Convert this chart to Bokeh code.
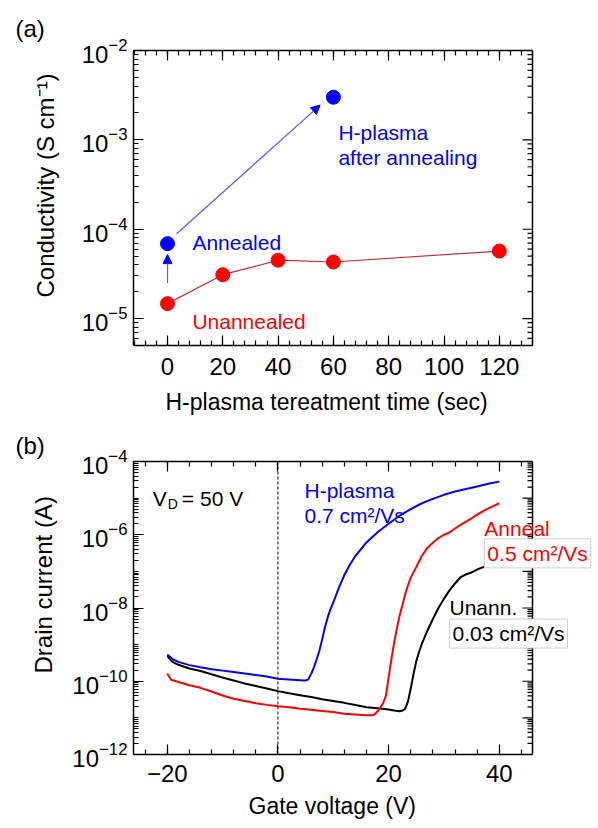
import math
from bokeh.plotting import figure
from bokeh.layouts import column
from bokeh.models import (LinearAxis, FixedTicker, SingleIntervalTicker, Title,
                          LogTickFormatter, Label, Arrow, NormalHead, Span, Range1d)
from bokeh.embed import file_html
from bokeh.resources import INLINE

FONT = "Liberation Sans"

# ---------------- panel (a) data ----------------
time_unannealed = [0, 20, 40, 60, 120]
cond_unannealed = [1.47e-5, 3.1e-5, 4.5e-5, 4.3e-5, 5.7e-5]
time_annealed = [0]
cond_annealed = [6.9e-5]
time_hplasma = [60]
cond_hplasma = [3.0e-3]
# arrows: (x_start, y_start, x_end, y_end)
arrow_anneal = [0, 2.5e-5, 0, 5.2e-5]
arrow_plasma = [3.3, 8.9e-5, 55.2, 2.45e-3]
a_decades = [1e-5, 1e-4, 1e-3, 1e-2]
a_minor_low = [5e-6, 6e-6, 7e-6, 8e-6, 9e-6]
a_x_min, a_x_max = -12.3, 132.0     # visible axis box of panel (a)
a_x_canvas_max = 153.7              # frame extends to the right (room for overhanging labels)

# ---------------- panel (b) data ----------------
vg_hplasma = [-20, -19, -18, -16, -14, -12, -10, -8, -6, -4, -2, 0, 2, 4, 5, 5.5, 6, 6.5,
              7, 7.5, 8, 8.5, 9, 9.5, 10, 11, 12, 13, 14, 16, 18, 20, 22, 24, 26, 28, 30,
              32, 34, 36, 38, 40]
logid_hplasma = [-9.27, -9.40, -9.47, -9.56, -9.62, -9.67, -9.71, -9.75, -9.79, -9.83, -9.87,
                 -9.93, -9.95, -9.97, -9.98, -9.95, -9.80, -9.62, -9.40, -9.16, -8.85, -8.52,
                 -8.25, -8.03, -7.85, -7.45, -7.10, -6.82, -6.58, -6.21, -5.93, -5.70, -5.48,
                 -5.30, -5.14, -5.02, -4.91, -4.82, -4.75, -4.68, -4.61, -4.55]

vg_anneal = [-20, -19.3, -18, -16, -14, -12, -10, -8, -6, -4, -2, 0, 2, 4, 6, 8, 10, 12, 14,
             16, 17, 17.5, 18, 18.5, 19, 19.5, 20, 20.5, 21, 21.5, 22, 22.5, 23, 23.5, 24, 25,
             26, 27, 28, 29, 30, 31, 32, 33, 34, 35, 36, 37, 38, 39, 40]
logid_anneal = [-9.79, -9.96, -10.02, -10.11, -10.18, -10.28, -10.39, -10.48, -10.54, -10.60,
                -10.645, -10.68, -10.71, -10.75, -10.78, -10.81, -10.84, -10.89, -10.91,
                -10.93, -10.93, -10.90, -10.82, -10.72, -10.60, -10.40, -9.90, -9.40, -8.95,
                -8.55, -8.20, -7.92, -7.62, -7.38, -7.17, -6.88, -6.58, -6.36, -6.22, -6.09,
                -6.00, -5.94, -5.83, -5.73, -5.64, -5.55, -5.45, -5.36, -5.28, -5.21, -5.14]

vg_unann = [-20, -19, -18, -16, -14, -12, -10, -8, -6, -4, -2, 0, 2, 4, 6, 8, 10, 12, 14, 16,
            18, 20, 21, 22, 22.5, 23, 23.5, 24, 24.5, 25, 25.5, 26, 27, 28, 29, 30, 31, 32, 33,
            34, 35, 36, 37, 38, 39, 40]
logid_unann = [-9.31, -9.48, -9.55, -9.65, -9.72, -9.81, -9.90, -9.98, -10.06, -10.13, -10.20,
               -10.27, -10.33, -10.38, -10.43, -10.49, -10.54, -10.59, -10.65, -10.71, -10.74,
               -10.77, -10.80, -10.82, -10.80, -10.75, -10.55, -10.20, -9.80, -9.45, -9.20,
               -8.98, -8.62, -8.30, -8.00, -7.75, -7.52, -7.33, -7.16, -7.08, -7.03, -6.95,
               -6.89, -6.80, -6.70, -6.62]
b_labeled_decades = [1e-12, 1e-10, 1e-8, 1e-6, 1e-4]
b_all_decades = [1e-12, 1e-11, 1e-10, 1e-9, 1e-8, 1e-7, 1e-6, 1e-5, 1e-4]
b_x_min, b_x_max = -26.1, 46.0      # visible axis box of panel (b)
b_x_canvas_max = 56.84              # frame extends right so that labels may overhang the box

id_hplasma = [10 ** v for v in logid_hplasma]
id_anneal = [10 ** v for v in logid_anneal]
id_unann = [10 ** v for v in logid_unann]


def log_minors(decades):
    return [k * d for d in decades for k in range(2, 10)]


def style_axis(ax, labels=True, size="24px"):
    ax.axis_line_color = "black"
    ax.axis_line_width = 1.5
    ax.major_tick_in = 10
    ax.major_tick_out = 0
    ax.minor_tick_in = 5
    ax.minor_tick_out = 0
    ax.major_tick_line_color = "black"
    ax.minor_tick_line_color = "black"
    ax.major_tick_line_width = 1.2
    ax.minor_tick_line_width = 1.2
    ax.major_label_text_font = FONT
    ax.major_label_text_font_size = size
    ax.major_label_text_color = "black"
    if not labels:
        ax.major_label_text_font_size = "1px"
        ax.major_label_text_color = None
        ax.major_label_standoff = 0


def make_fig(height, xr, yr, top, bottom, title, title_standoff):
    p = figure(width=598, height=height, x_range=xr, y_range=yr, y_axis_type="log",
               output_backend="svg", toolbar_location=None, title=title,
               min_border_left=133, min_border_right=6, min_border_top=top,
               min_border_bottom=bottom)
    p.xgrid.visible = False
    p.ygrid.visible = False
    p.outline_line_color = None
    p.background_fill_color = "white"
    p.border_fill_color = "white"
    p.title.align = "left"
    p.title.vertical_align = "top"
    p.title.offset = -118
    p.title.standoff = title_standoff
    p.title.text_font = FONT
    p.title.text_font_size = "24px"
    p.title.text_font_style = "normal"
    p.title.text_color = "black"
    return p


def side_title(p, side, text, offset, standoff, size="23px"):
    p.add_layout(Title(text=text, align="left", offset=offset, standoff=standoff,
                       text_font=FONT, text_font_size=size, text_font_style="normal",
                       text_color="black"), side)


def right_edge(p, x_edge, majors, minors):
    # right-hand edge of the axis box with inward ticks (mirrors the left axis)
    p.add_layout(Span(location=x_edge, dimension="height", line_color="black", line_width=1.5))
    p.ray(x=[x_edge] * len(majors), y=majors, length=10, angle=math.pi,
          length_units="screen", line_color="black", line_width=1.2)
    p.ray(x=[x_edge] * len(minors), y=minors, length=5, angle=math.pi,
          length_units="screen", line_color="black", line_width=1.2)


def txt(p, x, y, text, color, size="21px", **kw):
    p.add_layout(Label(x=x, y=y, text=text, text_color=color, text_font=FONT,
                       text_font_size=size, text_baseline="alphabetic", **kw))


# ================= panel (a) =================
pa = make_fig(427, Range1d(a_x_min, a_x_canvas_max), Range1d(5e-6, 1e-2), 50, 82, "(a)", 14)
xt_a = SingleIntervalTicker(interval=20, num_minor_ticks=5)
yt_a = FixedTicker(ticks=a_decades, minor_ticks=a_minor_low + log_minors(a_decades[:-1]))
bx = pa.below[0]
bx.ticker = xt_a
bx.bounds = (a_x_min, a_x_max)
style_axis(bx)
bx.major_label_standoff = 12
ly = pa.left[0]
ly.ticker = yt_a
ly.formatter = LogTickFormatter()
style_axis(ly)
ly.major_label_standoff = 6
top_a = LinearAxis(ticker=xt_a, bounds=(a_x_min, a_x_max))
style_axis(top_a, labels=False)
pa.add_layout(top_a, "above")
right_edge(pa, a_x_max, a_decades, a_minor_low + log_minors(a_decades[:-1]))
side_title(pa, "left", "Conductivity (S cm\u207b\u00b9)", 48, 39, "24px")
side_title(pa, "below", "H-plasma tereatment time (sec)", 32, 19)

pa.line(time_unannealed, cond_unannealed, line_color="#c03030", line_width=1.2)
pa.scatter(time_unannealed, cond_unannealed, size=14, fill_color="#ff0000", line_color="#ff0000")
pa.scatter(time_annealed, cond_annealed, size=14, fill_color="#0000ff", line_color="#0000ff")
pa.scatter(time_hplasma, cond_hplasma, size=14, fill_color="#0000ff", line_color="#0000ff")

for a in (arrow_anneal, arrow_plasma):
    pa.add_layout(Arrow(x_start=a[0], y_start=a[1], x_end=a[2], y_end=a[3],
                        line_color="#5a5aff", line_width=1.2,
                        end=NormalHead(size=9, fill_color="#0000ff", line_color="#0000ff")))

txt(pa, 9, 7.1e-5, "Annealed", "#0000ff")
txt(pa, 9, 9.2e-6, "Unannealed", "#ff0000")
txt(pa, 61.8, 1.2e-3, "H-plasma", "#0000ff")
txt(pa, 61.8, 6.4e-4, "after annealing", "#0000ff")

# ================= panel (b) =================
pb = make_fig(401, Range1d(b_x_min, b_x_canvas_max), Range1d(1e-12, 1e-4), 34, 74, "(b)", 2)
xt_b = SingleIntervalTicker(interval=20, num_minor_ticks=5)
yt_b = FixedTicker(ticks=b_labeled_decades,
                   minor_ticks=[d for d in b_all_decades if d not in b_labeled_decades]
                   + log_minors(b_all_decades[:-1]))
bxb = pb.below[0]
bxb.ticker = xt_b
bxb.bounds = (b_x_min, b_x_max)
style_axis(bxb)
bxb.major_label_standoff = 10
lyb = pb.left[0]
lyb.ticker = yt_b
lyb.formatter = LogTickFormatter()
style_axis(lyb)
lyb.major_label_standoff = 6
top_b = LinearAxis(ticker=xt_b, bounds=(b_x_min, b_x_max))
style_axis(top_b, labels=False)
pb.add_layout(top_b, "above")
right_edge(pb, b_x_max, b_all_decades, log_minors(b_all_decades[:-1]))
side_title(pb, "left", "Drain current (A)", 81, 25, "24px")
side_title(pb, "below", "Gate voltage (V)", 115, 12)

pb.add_layout(Span(location=0, dimension="height", line_color="black", line_width=1,
                   line_dash="3 2"))
pb.line(vg_unann, id_unann, line_color="black", line_width=2)
pb.line(vg_anneal, id_anneal, line_color="#ff0000", line_width=2)
pb.line(vg_hplasma, id_hplasma, line_color="#0000ff", line_width=2)

txt(pb, -22.6, 9.6e-6, "V", "black")
txt(pb, -22.6, 9.6e-6, "D", "black", size="14px", x_offset=15, y_offset=-5)
txt(pb, -22.6, 9.6e-6, "= 50 V", "black", x_offset=29)
txt(pb, 4.8, 1.6e-5, "H-plasma", "#0000ff")
txt(pb, 4.8, 3.3e-6, "0.7 cm\u00b2/Vs", "#0000ff")
txt(pb, 31.0, 1.03e-8, "Unann.", "black")
txt(pb, 31.0, 2.0e-9, "0.03 cm\u00b2/Vs", "black", background_fill_color="white",
    border_line_color="#d0d0d0", padding=3)
txt(pb, 37.3, 3.1e-7, "0.5 cm\u00b2/Vs", "#ff0000", background_fill_color="white",
    border_line_color="#d0d0d0", padding=3)
txt(pb, 37.3, 1.48e-6, "Anneal", "#ff0000")

layout = column(pa, pb, spacing=0)
open("out.html", "w").write(file_html(layout, INLINE))
